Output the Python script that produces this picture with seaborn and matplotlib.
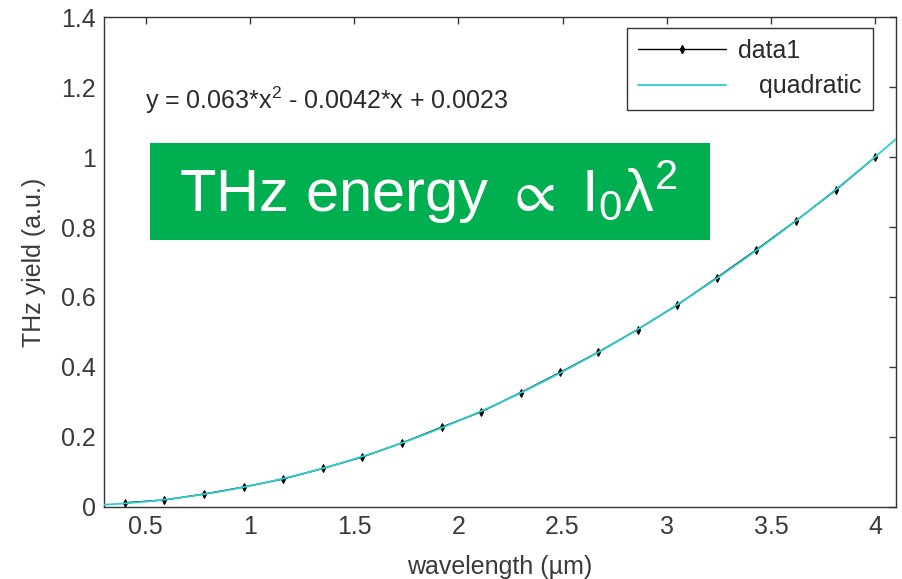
import numpy as np
import matplotlib
matplotlib.use('Agg')
from matplotlib import pyplot as plt
from matplotlib.lines import Line2D
from matplotlib.patches import Rectangle
import seaborn as sns

# measured points (wavelength in um, THz yield in a.u.)
wavelength = [0.40, 0.59, 0.78, 0.97, 1.16, 1.35, 1.54, 1.73, 1.92, 2.11,
              2.30, 2.49, 2.67, 2.86, 3.05, 3.24, 3.43, 3.62, 3.81, 4.00]
thz_yield = [0.012, 0.020, 0.037, 0.057, 0.080, 0.110, 0.143, 0.183, 0.228, 0.272,
             0.327, 0.385, 0.442, 0.507, 0.577, 0.655, 0.735, 0.818, 0.905, 1.000]

fit_text = 'y = 0.063*x$^{2}$ - 0.0042*x + 0.0023'
banner_text = 'THz energy ${\\propto}$ I$_0$\u03bb$^2$'

sns.set_style('white')
plt.rcParams['font.family'] = ['Liberation Sans', 'DejaVu Sans']
plt.rcParams['mathtext.fontset'] = 'custom'
plt.rcParams['mathtext.rm'] = 'Liberation Sans'
plt.rcParams['mathtext.it'] = 'Liberation Sans'
plt.rcParams['mathtext.default'] = 'regular'

fig = plt.figure(figsize=(9.02, 5.79), dpi=100)
ax = fig.add_axes([0.1153, 0.1244, 0.8781, 0.8462])
ax.set_xlim(0.3, 4.1)
ax.set_ylim(0, 1.4)

sns.lineplot(x=wavelength, y=thz_yield, ax=ax, color='black', lw=1,
             marker='d', markersize=4, markeredgecolor='black', zorder=2)
sns.regplot(x=wavelength, y=thz_yield, ax=ax, order=2, ci=None, truncate=False,
            scatter=False, line_kws={'color': '#2ccfcf', 'lw': 1.3, 'zorder': 3})

ax.set_xticks([0.5, 1, 1.5, 2, 2.5, 3, 3.5, 4])
ax.set_xticklabels(['0.5', '1', '1.5', '2', '2.5', '3', '3.5', '4'])
ax.set_yticks([0, 0.2, 0.4, 0.6, 0.8, 1, 1.2, 1.4])
ax.set_yticklabels(['0', '0.2', '0.4', '0.6', '0.8', '1', '1.2', '1.4'])
ax.tick_params(direction='in', length=5, width=1, top=True, right=True,
               labelsize=18, colors='#3a3a3a', pad=6)
for s in ax.spines.values():
    s.set_color('#333333')
    s.set_linewidth(1)

ax.set_xlabel('wavelength (\u00b5m)', fontsize=18, color='#3a3a3a', labelpad=11)
ax.set_ylabel('THz yield (a.u.)', fontsize=18, color='#3a3a3a', labelpad=11)

ax.text(0.052, 0.83, fit_text, transform=ax.transAxes, fontsize=18,
        color='#2a2a2a', va='center')

handles = [Line2D([], [], color='black', lw=1, marker='d', markersize=4),
           Line2D([], [], color='#2ccfcf', lw=1.3)]
leg = ax.legend(handles, ['data1', '   quadratic'], loc='upper right',
                bbox_to_anchor=(0.971, 0.978), borderaxespad=0, fontsize=18,
                handlelength=3.5, fancybox=False, framealpha=1,
                edgecolor='#333333', labelspacing=0.45, borderpad=0.45,
                handletextpad=0.5)
leg.get_frame().set_linewidth(1)
for t in leg.get_texts():
    t.set_color('#2a2a2a')

# green banner
fig.patches.append(Rectangle((150 / 902, 1 - 240 / 579), 560 / 902, 97 / 579,
                             transform=fig.transFigure, facecolor='#00b050',
                             edgecolor='none', zorder=5))
fig.text(428 / 902, 1 - 192 / 579, banner_text, fontsize=43, color='white',
         ha='center', va='center', zorder=6)

fig.savefig('out.png', dpi=100)
